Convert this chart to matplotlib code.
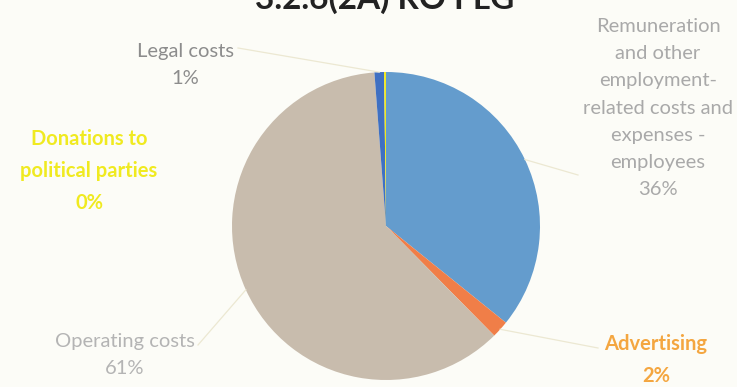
import matplotlib
matplotlib.use("Agg")
import matplotlib.pyplot as plt
import numpy as np

# slices, clockwise from 12 o'clock
labels = ["Remuneration\nand other\nemployment-\nrelated costs and\nexpenses -\nemployees",
          "Advertising", "Operating costs", "Legal costs", "Donations to\npolitical parties"]
values = [35.8, 1.8, 61.2, 1.0, 0.2]
pct_text = ["36%", "2%", "61%", "1%", "0%"]
colors = ["#649ccd", "#f07e48", "#c8bcad", "#3f70c2", "#f2e81a"]
label_colors = ["#a9a9a9", "#f4a640", "#b4b4b4", "#8c8c8c", "#f0ea20"]
title = "3.2.6(2A) RO FLG"

plt.rcParams['font.family'] = ['Lato', 'DejaVu Sans']
W, H = 737, 387
fig = plt.figure(figsize=(W / 100, H / 100), dpi=100, facecolor="#fcfcf7")

cx, cy, r = 386, 226, 154
ax = fig.add_axes([(cx - r) / W, (H - cy - r) / H, 2 * r / W, 2 * r / H])
ax.set_facecolor("none")
wedges, _ = ax.pie(values, colors=colors, startangle=90, counterclock=False,
                   wedgeprops=dict(linewidth=0))
ax.set_xlim(-1, 1)
ax.set_ylim(-1, 1)
ax.set_aspect("equal")
ax.axis("off")

# label block centres in pixels, bold flag
spots = [(658, 108, False), (656, 360, True), (125, 355, False),
         (185, 65, False), (89, 171, True)]
line_ends = [(578, 175), (598, 348), (198, 345), (238, 48), None]

for i, w in enumerate(wedges):
    x, y, bold = spots[i]
    txt = labels[i] + "\n" + pct_text[i]
    fig.text(x / W, 1 - y / H, txt, ha="center", va="center",
             fontsize=14.5, color=label_colors[i], linespacing=1.72,
             fontweight="bold" if bold else "normal")
    if line_ends[i] is not None:
        mid = np.deg2rad((w.theta1 + w.theta2) / 2)
        px, py = np.cos(mid), np.sin(mid)
        ex, ey = line_ends[i]
        tx = (ex - cx) / r
        ty = (cy - ey) / r
        ax.plot([px, tx], [py, ty], color="#ece8d2", lw=0.9, clip_on=False)

fig.text(0.522, 1 - 9 / H, title, ha="center", va="baseline",
         fontsize=24, fontweight="bold", color="#222222")

fig.savefig("out.png", dpi=100, facecolor=fig.get_facecolor())
